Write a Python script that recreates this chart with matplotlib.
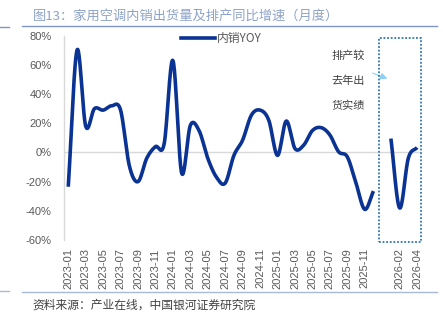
import numpy as np
import matplotlib
matplotlib.use("Agg")
import matplotlib.pyplot as plt
from matplotlib.patches import Rectangle
import matplotlib.transforms as mtransforms
from matplotlib.lines import Line2D

plt.rcParams['font.family'] = ['Noto Sans CJK SC', 'DejaVu Sans']

# ---------------- data ----------------
categories = [f"{y}-{m:02d}" for y in (2023, 2024, 2025) for m in range(1, 13)] + \
             ["", "2026-01", "2026-02", "2026-03", "2026-04"]
# 内销YOY (%) 2023-01 .. 2025-12
yoy_actual = [-23.5, 70, 18, 30, 29, 32, 29, -9, -20, -4, 4, 6,
              63, -14, 18.5, 15, -4, -17, -21, -2, 8.5, 25.5, 29, 22,
              -2, 21.5, 2.7, 5, 15, 17, 12, 0.5, -3, -21, -39, -26.5]
# 排产 (%) 2026-01 .. 2026-04
yoy_plan = [9.5, -38, -4, 3.4]
yticks = [-60, -40, -20, 0, 20, 40, 60, 80]

title = "图13：家用空调内销出货量及排产同比增速（月度）"
source = "资料来源：产业在线，中国银河证券研究院"
legend_label = "内销YOY"
note = ["排产较", "去年出", "货实绩"]

LINE = "#0b3393"
GRAY_T = "#595959"


def smooth(x, y, n=24):
    x = np.asarray(x, float)
    y = np.asarray(y, float)
    if len(x) < 3:
        return x, y
    P = np.column_stack([x, y])
    P = np.vstack([2 * P[0] - P[1], P, 2 * P[-1] - P[-2]])
    out = []
    t = np.linspace(0, 1, n, endpoint=False)[:, None]
    for i in range(1, len(P) - 2):
        p0, p1, p2, p3 = P[i - 1], P[i], P[i + 1], P[i + 2]
        c1 = p1 + (p2 - p0) / 6
        c2 = p2 - (p3 - p1) / 6
        seg = ((1 - t) ** 3) * p1 + 3 * ((1 - t) ** 2) * t * c1 + 3 * (1 - t) * t ** 2 * c2 + t ** 3 * p2
        out.append(seg)
    out.append(P[-2][None, :])
    out = np.vstack(out)
    return out[:, 0], out[:, 1]


fig = plt.figure(figsize=(4.43, 3.25), dpi=100)
W, H = 443, 325
ax = fig.add_axes([63.9 / W, 1 - 240 / H, (421.4 - 63.9) / W, (240 - 35.7) / H])

x1 = np.arange(len(yoy_actual))
start2 = categories.index("2026-01")
x2 = np.arange(start2, start2 + len(yoy_plan))

sx, sy = smooth(x1, yoy_actual)
ax.plot(sx, sy, color=LINE, lw=2.6, solid_capstyle='butt', zorder=3)
sx, sy = smooth(x2, yoy_plan)
ax.plot(sx, sy, color=LINE, lw=2.6, solid_capstyle='butt', zorder=3)

ax.set_xlim(-0.5, len(categories) - 0.5)
ax.set_ylim(-60, 80)
ax.set_yticks(yticks)
ax.set_yticklabels([f"{v}%" for v in yticks], family='Liberation Sans', fontsize=8, color=GRAY_T)
xt = np.arange(0, len(categories), 2)
ax.set_xticks(xt)
ax.set_xticklabels([categories[i] for i in xt], rotation=90, family='Liberation Sans',
                   fontsize=8, color=GRAY_T)
ax.tick_params(axis='y', length=0, pad=9)
ax.tick_params(axis='x', length=0, pad=6)
for s in ['top', 'right', 'bottom']:
    ax.spines[s].set_visible(False)
ax.spines['left'].set_color('#d9d9d9')
ax.spines['left'].set_linewidth(1)
ax.axhline(0, color='#d9d9d9', lw=1, zorder=1)

# legend
ax.legend(handles=[Line2D([0], [0], color=LINE, lw=2.6)], labels=[legend_label],
          loc='upper left', bbox_to_anchor=((176 - 63.9) / (421.4 - 63.9), 1.04),
          frameon=False, handlelength=2.9, handletextpad=0.15, fontsize=8.5,
          labelcolor=GRAY_T, borderaxespad=0)

# dotted box around plan section
trans = mtransforms.blended_transform_factory(ax.transData, ax.transAxes)
ax.add_patch(Rectangle((35.67, -0.01), 40.45 - 35.67, 1.0, transform=trans, fill=False,
                       edgecolor='#2e75b6', lw=1.3, ls=(0, (1, 1)), clip_on=False, zorder=4))

# annotation
for i, s in enumerate(note):
    fig.text(348 / W, 1 - (55.7 + 24.9 * i) / H, s, ha='center', va='center',
             fontsize=8, color='#404040')
ax.annotate("", xy=(36.9, 50), xytext=(34.6, 55),
            arrowprops=dict(arrowstyle='-|>', color='#8fd0f2', lw=0.8,
                            mutation_scale=10), annotation_clip=False)

# title, decorations, source
fig.text(32.5 / W, 1 - 16.5 / H, title, ha='left', va='center', fontsize=9.5, color='#8ea3c9')
fig.add_artist(Line2D([22 / W, 437 / W], [1 - 26 / H] * 2, color='#7f97c6', lw=1))
fig.add_artist(Line2D([0, 9 / W], [1 - 26.5 / H] * 2, color='#7f97c6', lw=1))
fig.add_artist(Line2D([22 / W, 437 / W], [1 - 291.5 / H] * 2, color='#a9b9d9', lw=1))
fig.add_artist(Line2D([0, 9 / W], [1 - 291 / H] * 2, color='#a9b9d9', lw=1))
fig.text(32 / W, 1 - 305 / H, source, ha='left', va='center', fontsize=8.5, color='#404040')

fig.savefig("out.png", dpi=100)
